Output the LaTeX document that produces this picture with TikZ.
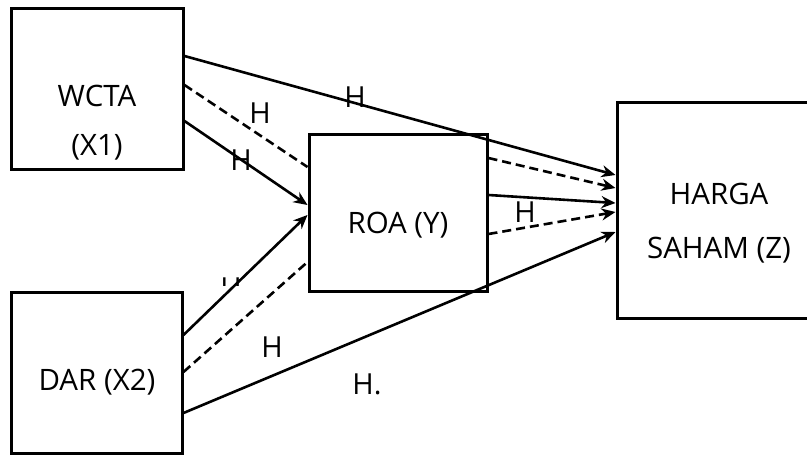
\documentclass[tikz,border=0pt]{standalone}
\usepackage{fontspec}
\setmainfont{Open Sans}
\usetikzlibrary{arrows.meta}

\begin{document}
\begin{tikzpicture}[x=1pt,y=-1pt,line width=2.6pt,
  var/.style={draw,rectangle,inner sep=0pt,line width=3pt},
  vtext/.style={font=\fontsize{29.5}{32}\selectfont,align=center},
  hyp/.style={font=\fontsize{29}{30}\selectfont,inner sep=0pt},
  ptr/.style={-{Stealth[length=14pt,width=12pt]}},
  dsh/.style={dash pattern=on 9pt off 5pt}]
\useasboundingbox(0,0)rectangle(807,455);
\node[var,minimum width=172pt,minimum height=161pt](x1)at(97,88.5){};
\node[var,minimum width=171pt,minimum height=161pt](x2)at(96.5,372.5){};
\node[var,minimum width=178pt,minimum height=157pt](roa)at(398,212.5){};
\node[var,minimum width=204pt,minimum height=216pt](hs)at(719,210){};
\node[vtext](t1)at(97,96){WCTA};
\node[vtext](t2)at(97,147){(X1)};
\node[vtext](t3)at(97,382){DAR (X2)};
\node[vtext](t4)at(398,225){ROA (Y)};
\node[vtext](t5)at(719,194){HARGA};
\node[vtext](t6)at(719,250){SAHAM (Z)};
\draw[ptr]([yshift=32.5pt]x1.east)--([yshift=35pt]hs.west);
\draw[dsh]([yshift=3.5pt]x1.east)--([yshift=45.5pt]roa.west);
\draw[ptr]([yshift=-32.5pt]x1.east)--([yshift=7.5pt]roa.west);
\draw[ptr]([yshift=37.5pt]x2.east)--([yshift=-2.5pt]roa.west);
\draw[dsh]([yshift=0.5pt]x2.east)--([yshift=-49.5pt]roa.west);
\draw[ptr]([yshift=-40.5pt]x2.east)--([yshift=-22pt]hs.west);
\draw[ptr,dsh]([yshift=54.5pt]roa.east)--([yshift=22pt]hs.west);
\draw[ptr]([yshift=17.5pt]roa.east)--([yshift=7pt]hs.west);
\draw[ptr,dsh]([yshift=-21.5pt]roa.east)--([yshift=-2pt]hs.west);
\node[hyp](h1)at(355,97){H};
\node[hyp](h2)at(260,113){H};
\node[hyp](h3)at(241,160){H};
\begin{scope}
\clip(215,270)rectangle(245,285.5);
\node[hyp](h4)at(231,288){H};
\end{scope}
\node[hyp](h5)at(272,347){H};
\node[hyp](h6)at(367,384){H.};
\node[hyp](h7)at(525,212){H};
\end{tikzpicture}
\end{document}
